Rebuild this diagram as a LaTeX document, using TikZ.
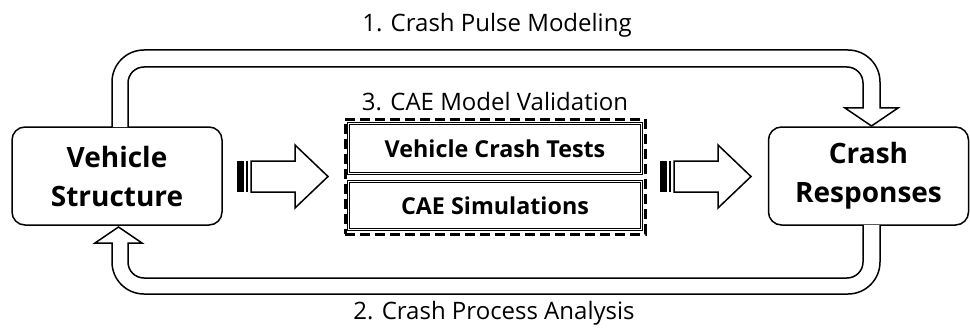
\documentclass[tikz,border=0pt]{standalone}
\usepackage{fontspec}
\setmainfont{Open Sans}[Ligatures=NoCommon]
\begin{document}
\begin{tikzpicture}[x=1pt,y=-1pt,line join=miter,
  outline/.style={draw=black,line width=1.5pt,fill=white},
  mainbox/.style={outline,rounded corners=13pt,align=center,inner sep=0pt,
    font=\fontsize{28}{39}\selectfont\bfseries},
  subbox/.style={draw=black,line width=0.7pt,double=white,double distance=0.7pt,
    minimum width=293pt,inner sep=0pt,font=\fontsize{23.3}{27}\selectfont\bfseries},
  caption/.style={inner sep=0pt,font=\fontsize{24}{28}\selectfont},
  groupbox/.style={draw=black,line width=3pt,dash pattern=on 10pt off 5pt}]
\useasboundingbox (0,0) rectangle (970,329);

% main blocks
\node[mainbox,minimum width=210pt,minimum height=98pt] (vs) at (117,176) {Vehicle\\Structure};
\node[mainbox,minimum width=200pt,minimum height=98pt] (cr) at (868.5,176) {Crash\\Responses};

% validation group
\node[groupbox,minimum width=300pt,minimum height=115pt] (grp) at (495,176.5) {};
\node[subbox,minimum height=50pt] (vct) at (495,148.5) {Vehicle Crash Tests};
\node[subbox,minimum height=48pt] (cae) at (495,205.5) {CAE Simulations};

% captions
\node[caption] (c1) at (497,25) {1. Crash Pulse Modeling};
\node[caption] (c2) at (494,313) {2. Crash Process Analysis};
\node[caption] (c3) at (495,102) {3. CAE Model Validation};

% feedforward loop: Vehicle Structure -> Crash Responses
\draw[outline] (112,127) -- (112,82) arc[start angle=180,end angle=270,radius=32]
  -- (848,50) arc[start angle=270,end angle=360,radius=32]
  -- (880,108) -- (898,108) -- (871.5,126) -- (845,108) -- (863,108)
  -- (863,83) arc[start angle=0,end angle=-90,radius=16]
  -- (144,67) arc[start angle=270,end angle=180,radius=16]
  -- (128,127);

% feedback loop: Crash Responses -> Vehicle Structure
\draw[outline] (880,225) -- (880,262) arc[start angle=0,end angle=90,radius=32]
  -- (144,294) arc[start angle=90,end angle=180,radius=32]
  -- (112,243) -- (95,243) -- (118.5,227) -- (142,243) -- (128,243)
  -- (128,262) arc[start angle=180,end angle=90,radius=16]
  -- (847,278) arc[start angle=90,end angle=0,radius=16]
  -- (863,225);

% striped block arrows
\foreach \x/\n in {237/a1,660/a2}{
  \fill[black] (\x,161) rectangle ++(7,31);
  \draw[black,line width=1.8pt] (\x+10,161) -- (\x+10,192);
  \draw[outline] (\x+14,161) -- (\x+58,161) -- (\x+58,145) -- (\x+91,176.5)
    -- (\x+58,208) -- (\x+58,192) -- (\x+14,192) -- cycle;
}
\end{tikzpicture}
\end{document}
